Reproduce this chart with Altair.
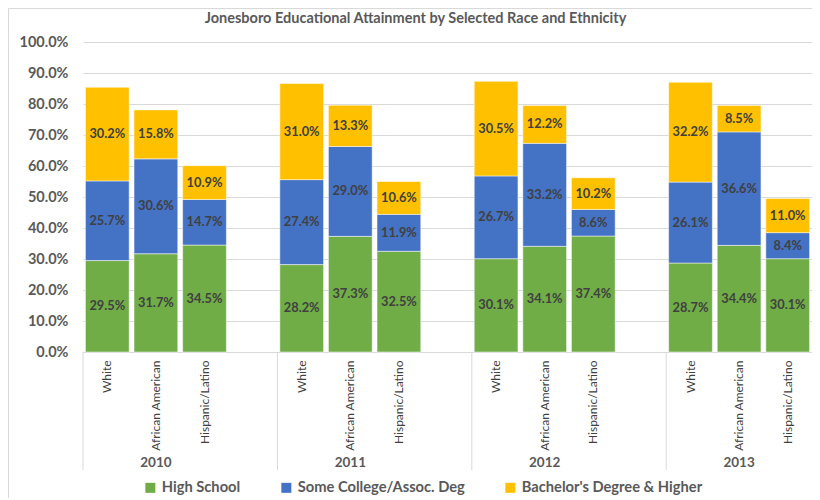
import altair as alt
import pandas as pd

FONT = "Lato"

years = ["2010", "2011", "2012", "2013"]
races = ["White", "African American", "Hispanic/Latino"]
levels = ["High School", "Some College/Assoc. Deg", "Bachelor's Degree & Higher"]
colors = ["#70AD47", "#4472C4", "#FFC000"]
y_ticks = [0.0, 0.1, 0.2, 0.3, 0.4, 0.5, 0.6, 0.7, 0.8, 0.9, 1.0]

high_school = [29.5, 31.7, 34.5, 28.2, 37.3, 32.5, 30.1, 34.1, 37.4, 28.7, 34.4, 30.1]
some_college = [25.7, 30.6, 14.7, 27.4, 29.0, 11.9, 26.7, 33.2, 8.6, 26.1, 36.6, 8.4]
bachelors = [30.2, 15.8, 10.9, 31.0, 13.3, 10.6, 30.5, 12.2, 10.2, 32.2, 8.5, 11.0]

rows = []
for li, (lvl, vals) in enumerate(zip(levels, [high_school, some_college, bachelors])):
    i = 0
    for y in years:
        for r in races:
            rows.append({"year": y, "race": r, "slot": f"{y}|{r}", "level": lvl,
                         "order": li, "value": vals[i] / 100})
            i += 1
df = pd.DataFrame(rows)

slots = []
for y in years:
    for r in races:
        slots.append(f"{y}|{r}")
    if y != years[-1]:
        slots.append(f"{y}|")

W, H = 729, 310
xscale = alt.Scale(domain=slots, paddingInner=0.1, paddingOuter=0.05)
yscale = alt.Scale(domain=[0, 1])

xaxis = alt.Axis(title=None, labelExpr="split(datum.value, '|')[1]",
                 labelAngle=270, ticks=False, domainColor="#d9d9d9",
                 labelPadding=8, labelFont=FONT, labelFontSize=12,
                 labelColor="#404040", grid=False)
yaxis = alt.Axis(title=None, format=".1%", values=y_ticks,
                 labelFont=FONT, labelFontSize=14.5, labelFontWeight="bold",
                 labelColor="#595959", gridColor="#d9d9d9", domain=False,
                 ticks=False, labelPadding=15, labelOverlap=False)

base = alt.Chart(df)
bars = base.mark_bar(stroke="white", strokeWidth=0.5).encode(
    x=alt.X("slot:N", scale=xscale, axis=xaxis),
    y=alt.Y("value:Q", stack="zero", scale=yscale, axis=yaxis),
    color=alt.Color("level:N", scale=alt.Scale(domain=levels, range=colors),
                    legend=alt.Legend(title=None, orient="none", legendX=60, legendY=438,
                                      direction="horizontal", symbolType="square",
                                      symbolSize=100, symbolStrokeWidth=0,
                                      labelFont=FONT, labelFontSize=14.7,
                                      labelFontWeight="bold", labelColor="#595959",
                                      columnPadding=38, labelOffset=4, padding=0,
                                      labelLimit=400)),
    order=alt.Order("order:Q"),
)

labels = base.transform_stack(
    stack="value", as_=["y0", "y1"], groupby=["slot"],
    sort=[alt.SortField("order", "ascending")]
).transform_calculate(mid="(datum.y0 + datum.y1) / 2").mark_text(
    font=FONT, fontWeight="bold", fontSize=12.8, color="#404040"
).encode(
    x=alt.X("slot:N", scale=xscale, axis=xaxis),
    y=alt.Y("mid:Q", scale=yscale, axis=yaxis),
    text=alt.Text("value:Q", format=".1%"),
)

sep_df = pd.DataFrame({"year": years,
                       "slot": [f"{y}|White" for y in years],
                       "mid_slot": [f"{y}|African American" for y in years]})

seps = alt.Chart(sep_df).mark_rule(color="#d9d9d9", xOffset=-2.4).encode(
    x=alt.X("slot:N", scale=xscale, bandPosition=0, axis=xaxis),
    y=alt.value(H), y2=alt.value(H + 118),
)

year_text = alt.Chart(sep_df).mark_text(
    font=FONT, fontWeight="bold", fontSize=13.5, color="#595959", baseline="middle"
).encode(
    x=alt.X("mid_slot:N", scale=xscale, axis=xaxis),
    y=alt.value(H + 111),
    text="year:N",
)

border = alt.Chart(pd.DataFrame({"a": [0]})).mark_rect(
    fillOpacity=0, stroke="#d9d9d9", strokeWidth=1
).encode(x=alt.value(-74.5), x2=alt.value(900), y=alt.value(-33.5), y2=alt.value(700))

chart = alt.layer(border, bars, labels, seps, year_text).properties(
    width=W, height=H,
    title=alt.TitleParams("Jonesboro Educational Attainment by Selected Race and Ethnicity",
                          font=FONT, fontSize=14.5, fontWeight="bold", color="#595959",
                          anchor="middle", frame="group", dx=-32, offset=-18),
    autosize=alt.AutoSizeParams(type="none"),
    padding={"left": 75, "top": 34, "right": 0, "bottom": 146},
).configure_view(stroke=None)

chart.save("out.html", embed_options={"renderer": "svg", "actions": False})
